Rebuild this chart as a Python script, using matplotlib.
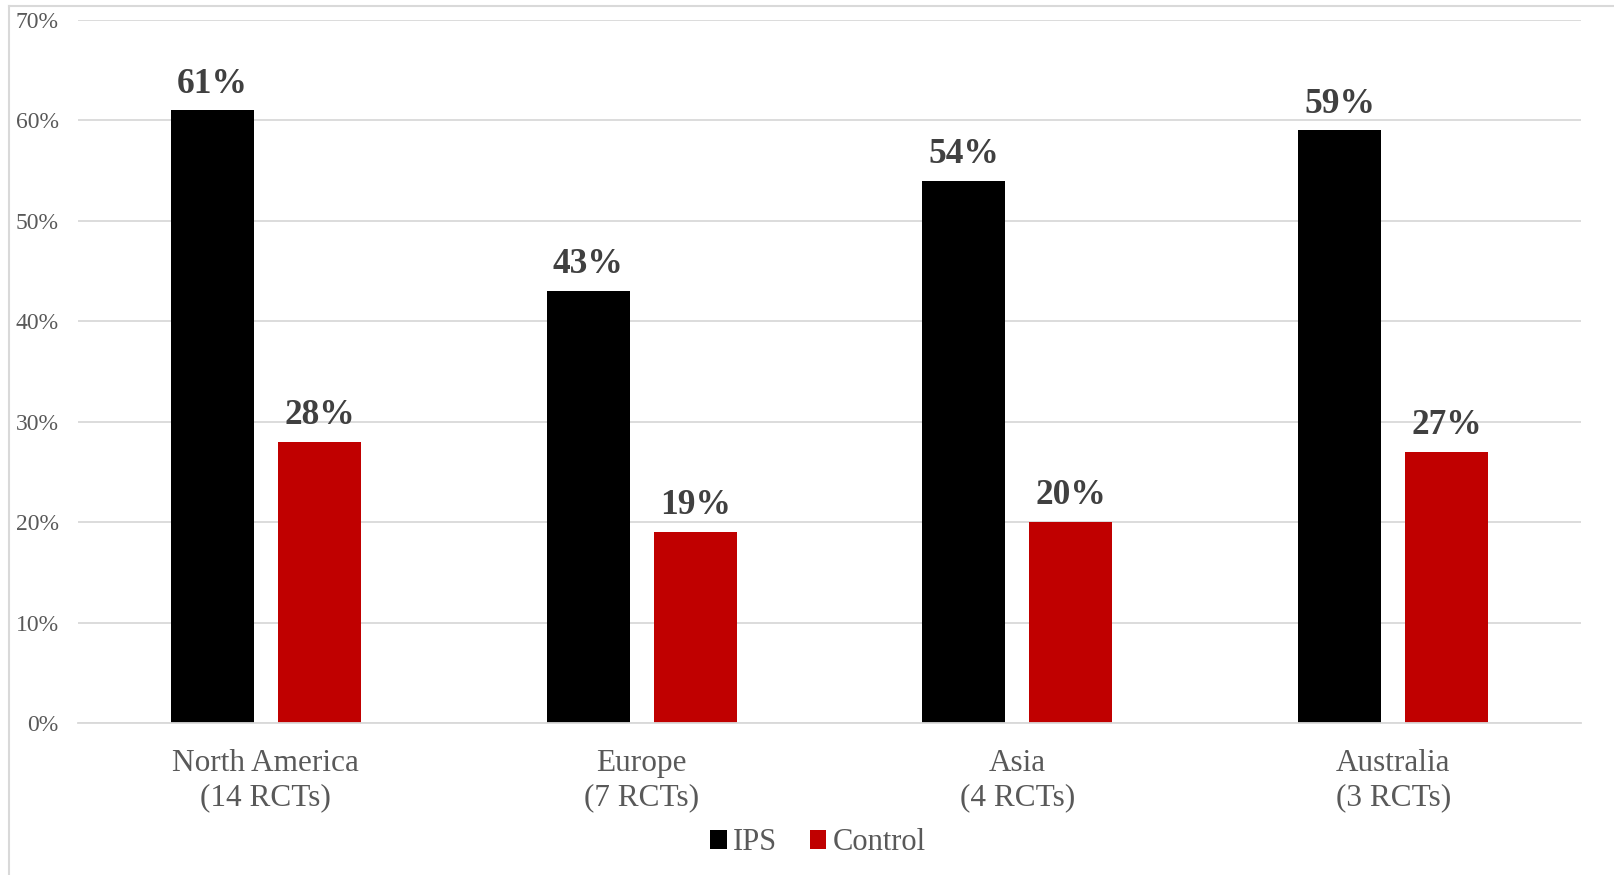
import matplotlib.pyplot as plt
import numpy as np
from matplotlib.patches import Patch
from matplotlib.lines import Line2D

# Data
regions = ["North America\n(14 RCTs)", "Europe\n(7 RCTs)", "Asia\n(4 RCTs)", "Australia\n(3 RCTs)"]
ips = [61, 43, 54, 59]
control = [28, 19, 20, 27]
series_names = ["IPS", "Control"]
yticks = [0, 10, 20, 30, 40, 50, 60, 70]

plt.rcParams['font.family'] = ['Liberation Serif', 'DejaVu Serif']
grey_txt = "#595959"
grid_col = "#D9D9D9"
colors = ["#000000", "#C00000"]

fig = plt.figure(figsize=(16.14, 8.75), dpi=100)
ax = fig.add_axes([78 / 1614, 1 - 723 / 875, (1581 - 78) / 1614, (723 - 20) / 875])

x = np.arange(len(regions))
w = 0.221
off = 0.1425
b1 = ax.bar(x - off, ips, w, color=colors[0], zorder=2)
b2 = ax.bar(x + off, control, w, color=colors[1], zorder=2)

for bars in (b1, b2):
    ax.bar_label(bars, labels=["%d%%" % v for v in bars.datavalues], padding=7,
                 fontsize=25.5, fontweight="bold", color="#404040")

ax.set_xlim(-0.5, len(regions) - 0.5)
ax.set_ylim(0, 70)
ax.set_yticks(yticks)
ax.set_yticklabels(["%d%%" % t for t in yticks], fontsize=17, color=grey_txt)
ax.set_xticks(x)
ax.set_xticklabels(regions, fontsize=22.5, color=grey_txt, linespacing=1.2)
ax.tick_params(axis="y", length=0, pad=14)
ax.tick_params(axis="x", length=0, pad=19)
ax.grid(axis="y", color=grid_col, linewidth=1.3, zorder=0)
for s in ["top", "right", "left"]:
    ax.spines[s].set_visible(False)
ax.spines["bottom"].set_color(grid_col)
ax.spines["bottom"].set_linewidth(1.3)

handles = [Patch(facecolor=c) for c in colors]
fig.legend(handles, series_names, loc="center", bbox_to_anchor=(818 / 1614, 1 - 843 / 875),
           ncol=2, frameon=False, fontsize=22, handlelength=0.55, handleheight=0.55,
           handletextpad=0.2, columnspacing=1.05, labelcolor=grey_txt)

# outer chart border (only top and left edges visible in the crop)
fig.add_artist(Line2D([9 / 1614, 1.0], [1 - 6 / 875, 1 - 6 / 875], color=grid_col, linewidth=1.5))
fig.add_artist(Line2D([9 / 1614, 9 / 1614], [0, 1 - 6 / 875], color=grid_col, linewidth=1.5))

fig.savefig("out.png", dpi=100)
